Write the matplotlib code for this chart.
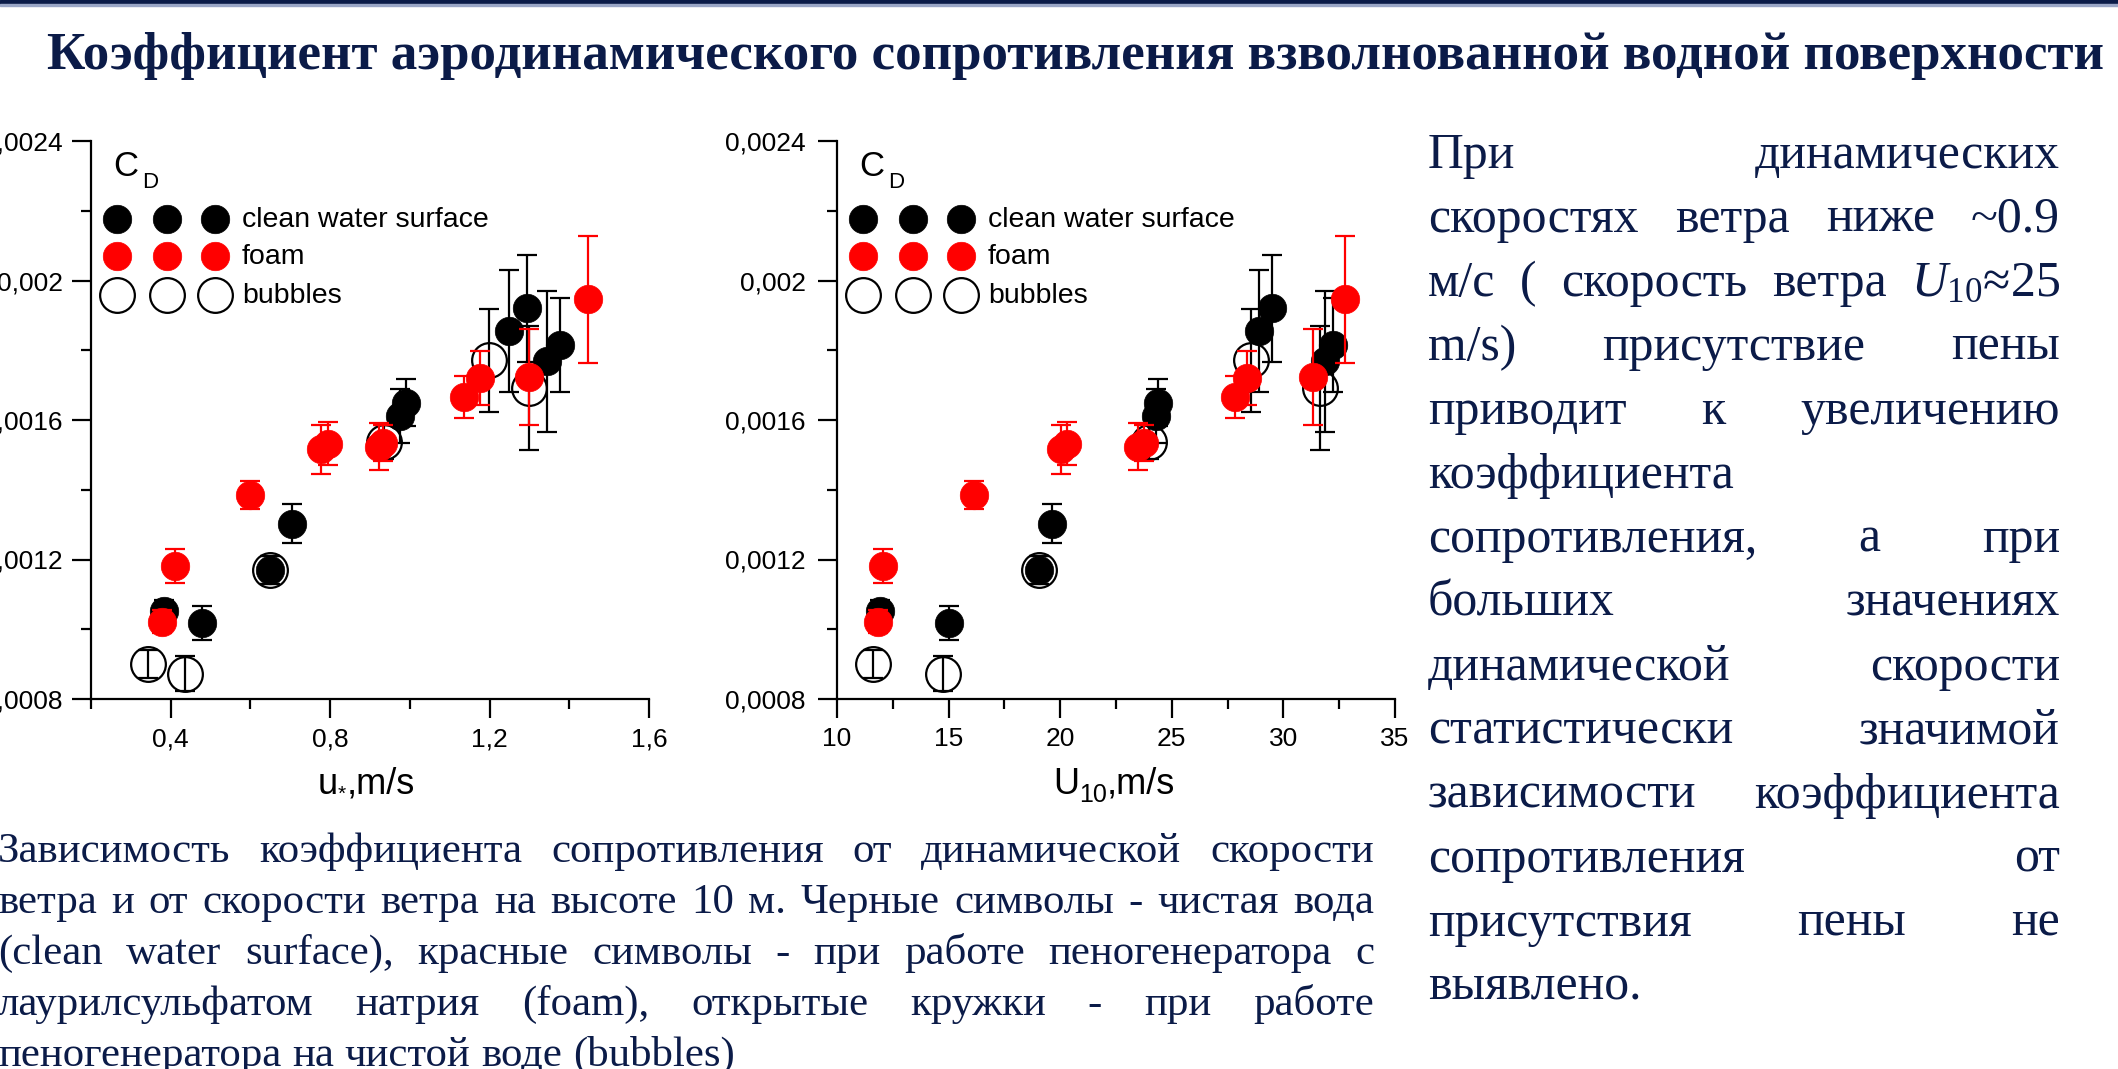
import matplotlib
matplotlib.use("Agg")
import matplotlib.pyplot as plt
from matplotlib.patches import Rectangle
from matplotlib.ticker import FixedLocator, FuncFormatter

# ---------------- data ----------------
# clean water surface (black filled)
clean_ustar = [0.383, 0.478, 0.650, 0.705, 0.976, 0.990, 1.248, 1.293, 1.343, 1.376]
clean_u10 = [11.92, 15.04, 19.07, 19.62, 24.30, 24.36, 28.91, 29.51, 31.85, 32.20]
clean_cd = [0.001053, 0.001018, 0.001170, 0.001302, 0.001611, 0.001650,
            0.001855, 0.001920, 0.001768, 0.001814]
clean_err = [0.00003, 0.00005, 0.00004, 0.000056, 0.000078, 0.000068,
             0.000176, 0.000153, 0.000202, 0.000135]

# foam (red filled)
foam_ustar = [0.377, 0.411, 0.599, 0.776, 0.795, 0.922, 0.932, 1.136, 1.176, 1.299, 1.447]
foam_u10 = [11.84, 12.04, 16.16, 20.03, 20.32, 23.50, 23.77, 27.81, 28.35, 31.31, 32.78]
foam_cd = [0.001022, 0.001182, 0.001384, 0.001516, 0.001532, 0.001524,
           0.001534, 0.001667, 0.001720, 0.001724, 0.001946]
foam_err = [0.000033, 0.000049, 0.00004, 0.000071, 0.000062, 0.000067,
            0.000052, 0.00006, 0.000077, 0.000138, 0.000182]

# bubbles (open circles)
bub_ustar = [0.344, 0.435, 0.650, 0.936, 1.199, 1.299]
bub_u10 = [11.62, 14.74, 19.07, 23.97, 28.55, 31.65]
bub_cd = [0.000900, 0.000872, 0.001170, 0.001537, 0.001771, 0.001692]
bub_err = [0.00004, 0.00005, 0.00004, 0.00005, 0.000148, 0.000177]

legend_labels = ["clean water surface", "foam", "bubbles"]

cd_ticks = [0.0008, 0.0012, 0.0016, 0.002, 0.0024]
cd_minor = [0.001, 0.0014, 0.0018, 0.0022]
ustar_ticks = [0.4, 0.8, 1.2, 1.6]
ustar_minor = [0.2, 0.6, 1.0, 1.4]
u10_ticks = [10, 15, 20, 25, 30, 35]
u10_minor = [12.5, 17.5, 22.5, 27.5, 32.5]

title = "Коэффициент аэродинамического сопротивления взволнованной водной поверхности"

caption_lines = [
    "Зависимость коэффициента сопротивления от динамической скорости",
    "ветра и от скорости ветра на высоте 10 м. Черные символы - чистая вода",
    "(clean water surface), красные символы - при работе пеногенератора с",
    "лаурилсульфатом натрия (foam), открытые кружки - при работе",
    "пеногенератора на чистой воде (bubbles)",
]

side_lines = [
    ["При", "динамических"],
    ["скоростях", "ветра", "ниже", "~0.9"],
    ["м/с", "(", "скорость", "ветра", r"$\mathit{U}_{\mathit{10}}$≈25"],
    ["m/s)", "присутствие", "пены"],
    ["приводит", "к", "увеличению"],
    ["коэффициента"],
    ["сопротивления,", "а", "при"],
    ["больших", "значениях"],
    ["динамической", "скорости"],
    ["статистически", "значимой"],
    ["зависимости", "коэффициента"],
    ["сопротивления", "от"],
    ["присутствия", "пены", "не"],
    ["выявлено."],
]

# ---------------- style ----------------
W, H, DPI = 2118, 1069, 100
NAVY = "#0b1b48"
RED = "#ff0000"
SANS = ["Liberation Sans", "DejaVu Sans"]
SERIF = ["Liberation Serif", "DejaVu Serif"]

plt.rcParams["font.family"] = SANS
plt.rcParams["mathtext.fontset"] = "custom"
plt.rcParams["mathtext.rm"] = "Liberation Serif"
plt.rcParams["mathtext.it"] = "Liberation Serif:italic"

fig = plt.figure(figsize=(W / DPI, H / DPI), dpi=DPI)
fig.patch.set_facecolor("white")
renderer = fig.canvas.get_renderer()


def fxy(x, y):
    """pixel position (origin top-left) -> figure fraction"""
    return x / W, 1 - y / H


# header rule
fig.patches.append(Rectangle((0, 1 - 4 / H), 1, 4 / H, transform=fig.transFigure,
                             color=NAVY, zorder=0))
fig.patches.append(Rectangle((0, 1 - 6 / H), 1, 2 / H, transform=fig.transFigure,
                             color="#9aa6c6", zorder=0))

# title, sized to span the slide width
tx, ty = fxy(47, 69)
t_title = fig.text(tx, ty, title, fontsize=32, fontweight="bold", family=SERIF,
                   color=NAVY, va="baseline", ha="left")
w0 = t_title.get_window_extent(renderer).width
t_title.set_fontsize(32 * 2060 / w0)


def text_width(t):
    return t.get_window_extent(renderer).width


def justified(words, left, right, base, size, family, color, justify=True):
    texts = []
    for w in words:
        x, y = fxy(0, base)
        texts.append(fig.text(x, y, w, fontsize=size, family=family, color=color,
                              va="baseline", ha="left"))
    widths = [text_width(t) for t in texts]
    if justify and len(words) > 1:
        gap = (right - left - sum(widths)) / (len(words) - 1)
    else:
        gap = size * DPI / 72 * 0.25
    x = left
    for t, w in zip(texts, widths):
        t.set_x(x / W)
        x += w + gap


def sized_for(sample, target, family):
    t = fig.text(0, 0, sample, fontsize=30, family=family)
    w = text_width(t)
    t.remove()
    return 30 * target / w


# caption under the charts
cap_size = sized_for(caption_lines[-1], 738, SERIF)
for i, line in enumerate(caption_lines):
    justified(line.split(" "), -2, 1374, 862 + 51 * i, cap_size, SERIF, NAVY,
              justify=(i < len(caption_lines) - 1))

# side paragraph
side_size = sized_for("коэффициента", 305, SERIF)
for i, words in enumerate(side_lines):
    justified(words, 1428, 2060, 168 + 64 * i, side_size, SERIF, NAVY,
              justify=(len(words) > 1))


# ---------------- charts ----------------
def cd_fmt(v, _):
    return ("%g" % v).replace(".", ",")


def make_axes(x0):
    ax = fig.add_axes([x0 / W, 1 - 699 / H, 558 / W, 558 / H])
    ax.patch.set_alpha(0)
    for s in ("top", "right"):
        ax.spines[s].set_visible(False)
    for s in ("left", "bottom"):
        ax.spines[s].set_linewidth(1.6)
    ax.tick_params(which="major", direction="out", length=13.5, width=1.6,
                   labelsize=19, pad=7)
    ax.tick_params(which="minor", direction="out", length=7, width=1.6)
    ax.set_ylim(cd_ticks[0], cd_ticks[-1])
    ax.yaxis.set_major_locator(FixedLocator(cd_ticks))
    ax.yaxis.set_minor_locator(FixedLocator(cd_minor))
    ax.yaxis.set_major_formatter(FuncFormatter(cd_fmt))
    return ax


def draw_series(ax, x, y, err, kind, z):
    if kind == "bubbles":
        ax.errorbar(x, y, yerr=err, fmt="none", ecolor="black", elinewidth=1.6,
                    capsize=7.5, capthick=1.6, zorder=z)
        ax.plot(x, y, "o", ms=25, mfc="none", mec="black", mew=1.6,
                ls="none", zorder=z + 0.1)
    else:
        c = RED if kind == "foam" else "black"
        ax.errorbar(x, y, yerr=err, fmt="none", ecolor=c, elinewidth=1.6,
                    capsize=7.5, capthick=1.6, zorder=z)
        ax.plot(x, y, "o", ms=20.5, mfc=c, mec=c, mew=0.5, ls="none", zorder=z + 0.1)


def draw_key(ax):
    ax.text(0.040, 0.954, "C", fontsize=25, transform=ax.transAxes,
            va="center", ha="left")
    ax.text(0.091, 0.926, "D", fontsize=16, transform=ax.transAxes,
            va="center", ha="left")
    key_x = [0.0466, 0.1362, 0.2222]
    rows = [0.8602, 0.7939, 0.7240]
    styles = [dict(ms=20.5, mfc="black", mec="black", mew=0.5),
              dict(ms=20.5, mfc=RED, mec=RED, mew=0.5),
              dict(ms=25, mfc="none", mec="black", mew=1.6)]
    for row, st, lab in zip(rows, styles, legend_labels):
        ax.plot(key_x, [row] * 3, "o", ls="none", transform=ax.transAxes,
                clip_on=False, **st)
        ax.text(0.2706, row - 0.0152, lab, fontsize=20.5, transform=ax.transAxes,
                va="baseline", ha="left")


def axis_label(segments, x_px, base_px):
    x = x_px
    for s, size, dy in segments:
        fx, fy = fxy(x, base_px - dy)
        t = fig.text(fx, fy, s, fontsize=size, family=SANS, color="black",
                     va="baseline", ha="left")
        x += text_width(t)


# left: versus friction velocity
ax1 = make_axes(91)
ax1.set_xlim(ustar_minor[0], ustar_ticks[-1])
ax1.xaxis.set_major_locator(FixedLocator(ustar_ticks))
ax1.xaxis.set_minor_locator(FixedLocator(ustar_minor))
ax1.xaxis.set_major_formatter(FuncFormatter(lambda v, _: ("%.1f" % v).replace(".", ",")))
draw_series(ax1, clean_ustar, clean_cd, clean_err, "clean", 2)
draw_series(ax1, bub_ustar, bub_cd, bub_err, "bubbles", 3)
draw_series(ax1, foam_ustar, foam_cd, foam_err, "foam", 4)
draw_key(ax1)
axis_label([("u", 26, 0), ("*", 15, -6), (",m/s", 26, 0)], 318, 794)

# right: versus 10 m wind speed
ax2 = make_axes(837)
ax2.tick_params(axis="y", which="major", pad=9)
ax2.set_xlim(u10_ticks[0], u10_ticks[-1])
ax2.xaxis.set_major_locator(FixedLocator(u10_ticks))
ax2.xaxis.set_minor_locator(FixedLocator(u10_minor))
ax2.xaxis.set_major_formatter(FuncFormatter(lambda v, _: "%d" % v))
draw_series(ax2, clean_u10, clean_cd, clean_err, "clean", 2)
draw_series(ax2, bub_u10, bub_cd, bub_err, "bubbles", 3)
draw_series(ax2, foam_u10, foam_cd, foam_err, "foam", 4)
draw_key(ax2)
axis_label([("U", 26, 0), ("10", 18, -8), (",m/s", 26, 0)], 1053, 794)

fig.savefig("out.png", dpi=DPI, facecolor="white")
